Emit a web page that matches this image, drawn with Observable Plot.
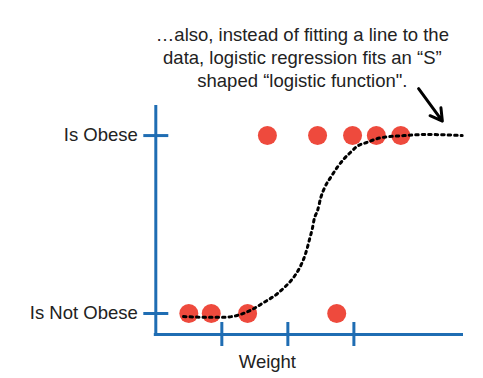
<!DOCTYPE html>
<html><head><meta charset="utf-8">
<script src="https://cdn.jsdelivr.net/npm/d3@7"></script>
<script src="https://cdn.jsdelivr.net/npm/@observablehq/plot@0.6"></script>
<style>body{margin:0;background:#fff}</style>
</head><body><div id="chart"></div>
<script>
// Observed weights
const obeseWeights = [1.69, 2.45, 2.98, 3.34, 3.71];
const notObeseWeights = [0.50, 0.84, 1.39, 2.74];
// Logistic curve (weight, probability)
const curveWeight = [0.42,0.73,1.03,1.23,1.43,1.64,1.84,1.94,2.07,2.17,2.24,2.29,2.33,2.37,2.40,2.45,2.50,2.56,2.65,2.75,2.85,2.95,3.05,3.20,3.40,3.76,4.11,4.64];
const curveProb   = [-0.017,-0.021,-0.021,-0.011,0.017,0.063,0.111,0.144,0.195,0.251,0.307,0.363,0.42,0.476,0.532,0.579,0.653,0.71,0.766,0.822,0.869,0.906,0.94,0.962,0.987,1.0,1.006,1.0];
const xTicks = [1, 2, 3];
const yTicks = [0, 1];
const yTickLabels = ["Is Not Obese", "Is Obese"];
const xLabel = "Weight";
const annotation = "…also, instead of fitting a line to the\ndata, logistic regression fits an “S”\nshaped “logistic function\".";

const xDomain = [0, 4.66];
const yDomain = [-0.118, 1.169];
const blue = "#1f6db3", red = "#ee4a3d", font = "'Liberation Sans', Arial, Helvetica, sans-serif";

const points = [
  ...obeseWeights.map(w => ({w, p: 1})),
  ...notObeseWeights.map(w => ({w, p: 0}))
];
const curve = curveWeight.map((w, i) => ({w, p: curveProb[i]}));

const chart = Plot.plot({
  width: 483, height: 378,
  marginLeft: 155.3, marginRight: 20, marginTop: 105, marginBottom: 44,
  x: {domain: xDomain, axis: null},
  y: {domain: yDomain, axis: null},
  style: {fontFamily: font, background: "#fff"},
  marks: [
    Plot.ruleX([xDomain[0]], {y1: yDomain[0], y2: yDomain[1], stroke: blue, strokeWidth: 3}),
    Plot.ruleY([yDomain[0]], {x1: xDomain[0], x2: xDomain[1], stroke: blue, strokeWidth: 3, insetLeft: -1.5}),
    Plot.ruleY(yTicks, {y: d => d, x1: xDomain[0], x2: xDomain[0], insetLeft: -12, insetRight: -13, stroke: blue, strokeWidth: 3}),
    Plot.ruleX(xTicks, {x: d => d, y1: yDomain[0], y2: yDomain[0], insetTop: -12, insetBottom: -12, stroke: blue, strokeWidth: 3}),
    Plot.text(yTicks, {x: xDomain[0], y: d => d, text: (d, i) => yTickLabels[i], textAnchor: "end", dx: -18, fontSize: 18.5, fill: "#222"}),
    Plot.text([xLabel], {x: 1.69, y: yDomain[0], dy: 28, text: d => d, fontSize: 18.5, fill: "#222"}),
    Plot.dot(points, {x: "w", y: "p", r: 9.5, fill: red}),
    Plot.line(curve, {x: "w", y: "p", curve: "monotone-x", stroke: "#000", strokeWidth: 3, strokeDasharray: "2.5,4"}),
    Plot.text([annotation], {x: 2.22, y: 1.444, text: d => d, fontSize: 18.5, lineHeight: 1.25, fill: "#222"}),
    Plot.arrow([{x1: 3.98, y1: 1.264, x2: 4.34, y2: 1.081}], {x1: "x1", y1: "y1", x2: "x2", y2: "y2", stroke: "#000", strokeWidth: 3, headLength: 12})
  ]
});
document.getElementById("chart").appendChild(chart);
</script>
</body></html>
